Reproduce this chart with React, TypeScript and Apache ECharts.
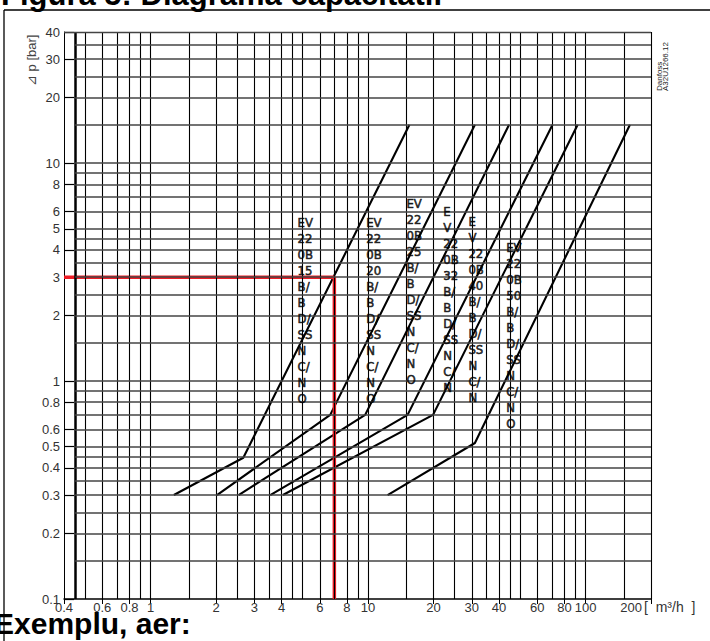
import React, { useEffect, useRef } from 'react';
import * as echarts from 'echarts';

// Axis gridlines (values)
const xGridValues = [0.45, 0.5, 0.6, 0.7, 0.8, 0.9, 1, 1.5, 2, 2.5, 3, 3.5, 4, 4.5, 5, 6, 7, 8, 9, 10, 15, 20, 25, 30, 35, 40, 45, 50, 60, 70, 80, 90, 100, 150, 200];
const yGridValues = [0.15, 0.2, 0.25, 0.3, 0.35, 0.4, 0.45, 0.5, 0.6, 0.7, 0.8, 0.9, 1, 1.5, 2, 2.5, 3, 3.5, 4, 4.5, 5, 6, 7, 8, 9, 10, 15, 20, 25, 30, 35, 40];
// Tick labels
const xTickLabels = [0.4, 0.6, 0.8, 1, 2, 3, 4, 6, 8, 10, 20, 30, 40, 60, 80, 100, 200];
const yTickLabels = [0.1, 0.2, 0.3, 0.4, 0.5, 0.6, 0.8, 1, 2, 3, 4, 5, 6, 8, 10, 20, 30, 40];

// Capacity curves [flow m3/h, dp bar]: start, knee, top
const curve15 = [[1.28, 0.3], [2.67, 0.445], [15.5, 15]];
const curve20 = [[2.02, 0.3], [6.7, 0.7], [31, 15]];
const curve25 = [[2.54, 0.3], [9.7, 0.7], [44.5, 15]];
const curve32 = [[3.55, 0.3], [15.2, 0.7], [70.5, 15]];
const curve40 = [[4.06, 0.3], [19.9, 0.7], [92, 15]];
const curve50 = [[12.3, 0.3], [31, 0.52], [160, 15]];
const curves = [curve15, curve20, curve25, curve32, curve40, curve50];

// Example (red)
const exampleFlow = 7;
const examplePressure = 3;

// Valve labels
const valveLabels = [
  ['EV', '22', '0B', '15', 'B/', 'B', 'D/', 'SS', 'N', 'C/', 'N', 'O'],
  ['EV', '22', '0B', '20', 'B/', 'B', 'D/', 'SS', 'N', 'C/', 'N', 'O'],
  ['EV', '22', '0B', '25', 'B/', 'B', 'D/', 'SS', 'N', 'C/', 'N', 'O'],
  ['E', 'V', '22', '0B', '32', 'B/', 'B', 'D/', 'SS', 'N', 'C/', 'N'],
  ['E', 'V', '22', '0B', '40', 'B/', 'B', 'D/', 'SS', 'N', 'C/', 'N'],
  ['EV', '22', '0B', '50', 'B/', 'B', 'D/', 'SS', 'N', 'C/', 'N', 'O'],
];
const valveLabelAnchors = [[4.77, 5.8], [9.86, 5.8], [15.1, 7.06], [22.3, 6.52], [29.1, 5.87], [43.4, 4.43]];

const X_MIN = 0.4, X_MAX = 200, Y_MIN = 0.1, Y_MAX = 40;

const fmt = (v: number) => String(+Number(v).toPrecision(6));

export default function App() {
  const ref = useRef<HTMLDivElement>(null);
  useEffect(() => {
    if (!ref.current) return;
    const chart = echarts.init(ref.current, undefined, { renderer: 'svg' });

    const vLines: any[] = xGridValues.map((v) => ({
      xAxis: v,
      lineStyle: { color: '#000', width: v === 0.45 ? 2.5 : 1.1, type: 'solid' },
    }));
    const hLines: any[] = yGridValues.map((v) => [
      { coord: [v === Y_MAX ? X_MIN : 0.45, v], lineStyle: { color: '#444', width: v === Y_MAX ? 1.3 : 1.7, type: 'solid' } },
      { coord: [X_MAX, v] },
    ]);

    const labelFont = "'DejaVu Sans Condensed', 'DejaVu Sans', sans-serif";

    const option: any = {
      animation: false,
      backgroundColor: '#fff',
      grid: { left: 64, right: 59, top: 32, bottom: 42, containLabel: false, outerBoundsMode: 'none' },
      xAxis: {
        type: 'log',
        logBase: 10,
        min: X_MIN,
        max: X_MAX,
        axisLine: { show: true, onZero: false, lineStyle: { color: '#000', width: 1.5 } },
        axisTick: { show: true, inside: false, length: 5, customValues: xTickLabels, lineStyle: { color: '#000', width: 1 } },
        axisLabel: {
          show: true,
          customValues: xTickLabels,
          alignMaxLabel: 'right',
          formatter: (v: number) => (Math.abs(v - X_MAX) < 1e-6 ? '{r|' + fmt(v) + '}' : fmt(v)),
          rich: { r: { padding: [0, 9, 0, 0], fontSize: 13, color: '#333', fontFamily: "'Liberation Sans', Arial, sans-serif" } },
          fontSize: 13,
          color: '#333',
          margin: 2,
          fontFamily: "'Liberation Sans', Arial, sans-serif",
        },
        splitLine: { show: false },
        minorTick: { show: false },
        minorSplitLine: { show: false },
      },
      yAxis: {
        type: 'log',
        logBase: 10,
        min: Y_MIN,
        max: Y_MAX,
        axisLine: { show: true, onZero: false, lineStyle: { color: '#000', width: 1 } },
        axisTick: { show: true, inside: true, length: 10, customValues: yTickLabels, lineStyle: { color: '#000', width: 1.2 } },
        axisLabel: {
          show: true,
          customValues: yTickLabels,
          formatter: (v: number) => fmt(v),
          fontSize: 13,
          color: '#333',
          margin: 4,
          fontFamily: "'Liberation Sans', Arial, sans-serif",
        },
        splitLine: { show: false },
        minorTick: { show: false },
        minorSplitLine: { show: false },
      },
      series: [
        {
          name: 'grid',
          type: 'line',
          data: [],
          z: 1,
          silent: true,
          markLine: {
            silent: true,
            symbol: ['none', 'none'],
            label: { show: false },
            animation: false,
            data: [...vLines, ...hLines],
          },
        },
        ...curves.map((c, i) => ({
          name: 'curve' + i,
          type: 'line',
          data: c,
          z: 3,
          showSymbol: false,
          symbol: 'none',
          lineStyle: { color: '#000', width: 2.1 },
          silent: true,
        })),
        {
          name: 'example',
          type: 'line',
          data: [[X_MIN, examplePressure], [exampleFlow, examplePressure], [exampleFlow, Y_MIN]],
          z: 4,
          symbol: 'none',
          lineStyle: { color: '#ee1c25', width: 3.5 },
          silent: true,
        },
        {
          name: 'valveLabels',
          type: 'scatter',
          z: 5,
          symbolSize: 1,
          itemStyle: { color: 'rgba(0,0,0,0)' },
          silent: true,
          label: {
            show: true,
            position: [0, 0],
            align: 'left',
            verticalAlign: 'top',
            formatter: (p: any) => valveLabels[p.dataIndex].join('\n'),
            fontSize: 13,
            lineHeight: 16,
            color: '#000',
            textBorderColor: '#000',
            textBorderWidth: 0.6,
            textShadowBlur: 0,
            fontFamily: labelFont,
          },
          data: valveLabelAnchors,
        },
      ],
      graphic: [
        { type: 'line', shape: { x1: 4, y1: 10, x2: 4, y2: 660 }, style: { stroke: '#000', lineWidth: 1.3 }, z: 10 },
        { type: 'line', shape: { x1: 4, y1: 10, x2: 720, y2: 10 }, style: { stroke: '#000', lineWidth: 1.3 }, z: 10 },
        {
          type: 'text', x: 1, y: -5.7, z: 20,
          style: { text: 'Figura 5: Diagrama capacitatii', font: "bold 31px 'Liberation Sans', Arial, sans-serif", fill: '#000', verticalAlign: 'middle' },
        },
        {
          type: 'text', x: -6, y: 623.6, z: 20,
          style: { text: 'Exemplu, aer:', font: "bold 30px 'Liberation Sans', Arial, sans-serif", fill: '#000', verticalAlign: 'middle' },
        },
        {
          type: 'text', x: 31, y: 86, rotation: Math.PI / 2, z: 20,
          style: { text: '⊿ p [bar]', font: "13px 'Liberation Sans', Arial, sans-serif", fill: '#444', verticalAlign: 'middle', align: 'left' },
        },
        {
          type: 'text', x: 644, y: 607, z: 20,
          style: { text: '[  m³/h  ]', font: "14px 'Liberation Sans', Arial, sans-serif", fill: '#333', verticalAlign: 'middle', align: 'left' },
        },
        {
          type: 'text', x: 656, y: 91, rotation: Math.PI / 2, z: 20,
          style: { text: 'Danfoss\nA32U1266.12', font: "8px 'Liberation Sans', Arial, sans-serif", fill: '#222', verticalAlign: 'top', align: 'left', lineHeight: 6.5 },
        },
      ],
    };

    chart.setOption(option);
    return () => chart.dispose();
  }, []);

  return (
    <div
      ref={ref}
      style={{ position: 'absolute', left: 0, top: 0, width: 710, height: 641, background: '#fff' }}
    />
  );
}
